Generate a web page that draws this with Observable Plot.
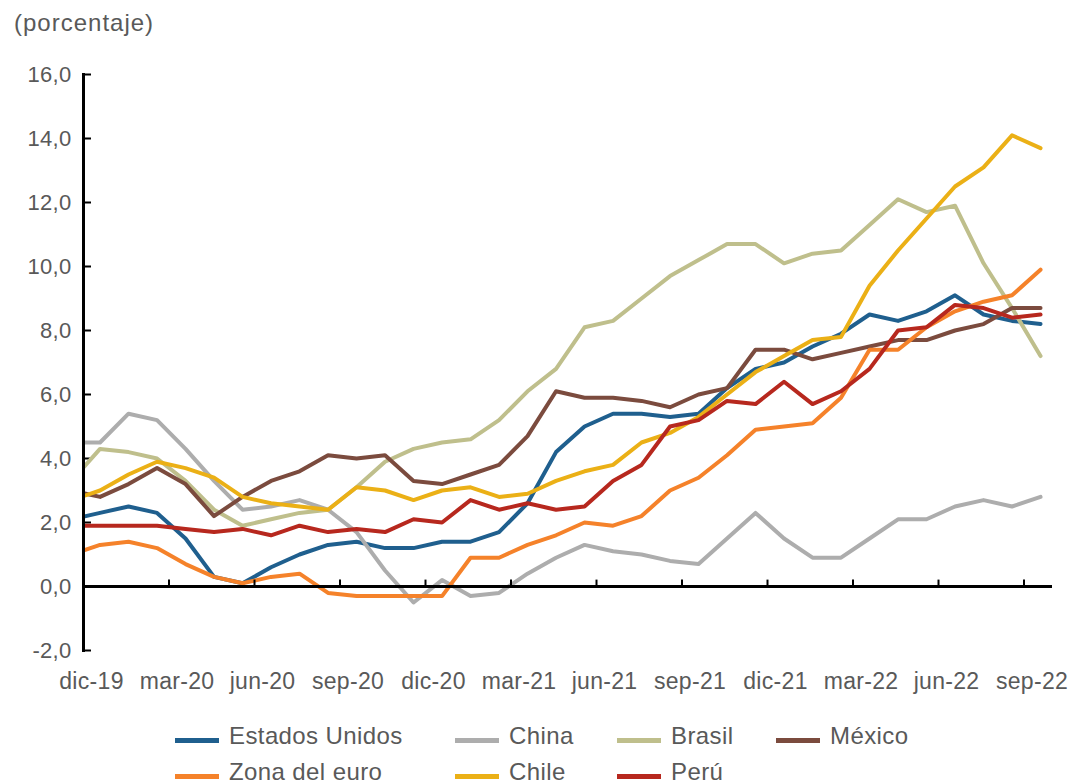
<!DOCTYPE html>
<html><head><meta charset="utf-8">
<script src="https://cdn.jsdelivr.net/npm/d3@7"></script>
<script src="https://cdn.jsdelivr.net/npm/@observablehq/plot@0.6"></script>
<style>
body{margin:0;background:#fff;font-family:"Liberation Sans",Arial,sans-serif;}
#wrap{position:relative;width:1071px;height:784px;overflow:hidden;background:#fff;}
#unit{position:absolute;left:14px;top:9px;font-size:24px;color:#595959;z-index:2;letter-spacing:1px;}
#chart{position:absolute;left:0;top:0;z-index:1;}
#legend{position:absolute;left:175px;top:718px;display:grid;grid-template-columns:280px 162px 159px auto;grid-auto-rows:36px;font-size:24px;letter-spacing:0.4px;color:#595959;z-index:2;}
.item{display:flex;align-items:center;white-space:nowrap;}
.sw{display:inline-block;width:44px;height:5px;margin-right:10px;margin-top:8px;}
</style></head>
<body><div id="wrap"><div id="unit">(porcentaje)</div><div id="chart"></div><div id="legend"></div></div>
<script>
// months: nov-19 (partially visible at the axis edge) to sep-22; index 0 = dic-19
const months = ["nov-19","dic-19","ene-20","feb-20","mar-20","abr-20","may-20","jun-20","jul-20","ago-20","sep-20","oct-20","nov-20","dic-20",
  "ene-21","feb-21","mar-21","abr-21","may-21","jun-21","jul-21","ago-21","sep-21","oct-21","nov-21","dic-21",
  "ene-22","feb-22","mar-22","abr-22","may-22","jun-22","jul-22","ago-22","sep-22"];
const seriesNames = ["Estados Unidos","China","Brasil","México","Zona del euro","Chile","Perú"];
const seriesColors = ["#1f5f8e","#adadad","#bfbf8c","#7b4b3e","#f5822a","#ebb016","#b7281e"];
const estadosUnidos = [2.1,2.3, 2.5,2.3,1.5,0.3,0.1,0.6,1.0,1.3,1.4,1.2,1.2,1.4, 1.4,1.7,2.6,4.2,5.0,5.4,5.4,5.3,5.4,6.2,6.8,7.0, 7.5,7.9,8.5,8.3,8.6,9.1,8.5,8.3,8.2];
const china = [4.5,4.5, 5.4,5.2,4.3,3.3,2.4,2.5,2.7,2.4,1.7,0.5,-0.5,0.2, -0.3,-0.2,0.4,0.9,1.3,1.1,1.0,0.8,0.7,1.5,2.3,1.5, 0.9,0.9,1.5,2.1,2.1,2.5,2.7,2.5,2.8];
const brasil = [3.3,4.3, 4.2,4.0,3.3,2.4,1.9,2.1,2.3,2.4,3.1,3.9,4.3,4.5, 4.6,5.2,6.1,6.8,8.1,8.3,9.0,9.7,10.2,10.7,10.7,10.1, 10.4,10.5,11.3,12.1,11.7,11.9,10.1,8.7,7.2];
const mexico = [3.0,2.8, 3.2,3.7,3.2,2.2,2.8,3.3,3.6,4.1,4.0,4.1,3.3,3.2, 3.5,3.8,4.7,6.1,5.9,5.9,5.8,5.6,6.0,6.2,7.4,7.4, 7.1,7.3,7.5,7.7,7.7,8.0,8.2,8.7,8.7];
const zonaEuro = [1.0,1.3, 1.4,1.2,0.7,0.3,0.1,0.3,0.4,-0.2,-0.3,-0.3,-0.3,-0.3, 0.9,0.9,1.3,1.6,2.0,1.9,2.2,3.0,3.4,4.1,4.9,5.0, 5.1,5.9,7.4,7.4,8.1,8.6,8.9,9.1,9.9];
const chile = [2.7,3.0, 3.5,3.9,3.7,3.4,2.8,2.6,2.5,2.4,3.1,3.0,2.7,3.0, 3.1,2.8,2.9,3.3,3.6,3.8,4.5,4.8,5.3,6.0,6.7,7.2, 7.7,7.8,9.4,10.5,11.5,12.5,13.1,14.1,13.7];
const peru = [1.9,1.9, 1.9,1.9,1.8,1.7,1.8,1.6,1.9,1.7,1.8,1.7,2.1,2.0, 2.7,2.4,2.6,2.4,2.5,3.3,3.8,5.0,5.2,5.8,5.7,6.4, 5.7,6.1,6.8,8.0,8.1,8.8,8.7,8.4,8.5];
const seriesValues = [estadosUnidos, china, brasil, mexico, zonaEuro, chile, peru];
const xTickLabels = ["dic-19","mar-20","jun-20","sep-20","dic-20","mar-21","jun-21","sep-21","dic-21","mar-22","jun-22","sep-22"];
const yTicks = [-2,0,2,4,6,8,10,12,14,16];

// Excel date axis: starts a bit before dic-19; ticks every 3 months offset from the data points
const axisStart = -0.58, axisEnd = 33.42;
const xTickPos = xTickLabels.map((_, k) => 3 * k + axisStart);
const labelOf = new Map(xTickPos.map((p, k) => [p, xTickLabels[k]]));

const data = [];
seriesNames.forEach((name, s) => {
  seriesValues[s].forEach((v, j) => data.push({series: name, i: j - 1, v}));
});

const font = '"Liberation Sans", Arial, sans-serif';
const chart = Plot.plot({
  width: 1071, height: 705,
  marginTop: 74, marginLeft: 83, marginRight: 19, marginBottom: 55,
  x: {domain: [axisStart, axisEnd]},
  y: {domain: [-2, 16]},
  color: {domain: seriesNames, range: seriesColors},
  style: {fontFamily: font, fontSize: "22px", color: "#595959", background: "white", overflow: "visible", letterSpacing: "0.3px"},
  marks: [
    Plot.axisY({ticks: yTicks, tickSize: 0, tickPadding: 12, tickFormat: d => d.toFixed(1).replace(".", ","), label: null}),
    Plot.axisY({ticks: yTicks, tickSize: 8, insetLeft: 8, fill: "none", stroke: "#000", strokeWidth: 2, label: null}),
    Plot.axisX({ticks: xTickPos, tickSize: 0, tickPadding: 22, dx: 8, fontSize: 23, tickFormat: d => labelOf.get(d), label: null}),
    Plot.line(data, {x: "i", y: "v", z: "series", stroke: "series", strokeWidth: 4, clip: true}),
    Plot.ruleY([0], {stroke: "#000", strokeWidth: 3}),
    Plot.ruleX(xTickPos, {y1: 0, y2: 0.2, stroke: "#000", strokeWidth: 2}),
    Plot.frame({anchor: "left", stroke: "#000", strokeWidth: 3})
  ]
});
document.getElementById("chart").appendChild(chart);

const legend = document.getElementById("legend");
seriesNames.forEach((name, s) => {
  const it = document.createElement("div");
  it.className = "item";
  const sw = document.createElement("span");
  sw.className = "sw";
  sw.style.background = seriesColors[s];
  it.appendChild(sw);
  it.appendChild(document.createTextNode(name));
  legend.appendChild(it);
});
</script></body></html>
